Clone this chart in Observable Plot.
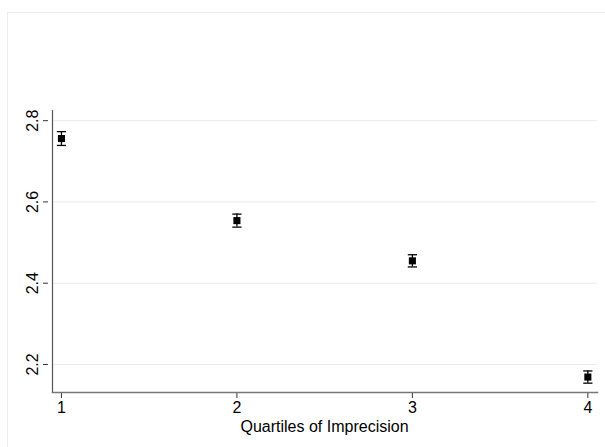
<!DOCTYPE html>
<html>
<head>
<meta charset="utf-8">
<script src="https://cdn.jsdelivr.net/npm/d3@7"></script>
<script src="https://cdn.jsdelivr.net/npm/@observablehq/plot@0.6"></script>
<style>
  html, body { margin: 0; padding: 0; background: #fff; }
  #wrap { position: relative; width: 605px; height: 447px; overflow: hidden; }
  #frame { position: absolute; left: 7px; top: 12px; width: 700px; height: 600px; border: 1px solid #e8eff1; box-sizing: border-box; }
  #chart { position: absolute; left: 0; top: 0; }
</style>
</head>
<body>
<div id="wrap"><div id="frame"></div><div id="chart"></div></div>
<script>
const quartiles = [1, 2, 3, 4];
const means = [2.756, 2.554, 2.455, 2.169];
const halfCI = [0.017, 0.016, 0.015, 0.015];
const yTicks = [2.2, 2.4, 2.6, 2.8];
const xTicks = [1, 2, 3, 4];
const xTitle = "Quartiles of Imprecision";

const data = quartiles.map((q, i) => ({q, m: means[i], lo: means[i] - halfCI[i], hi: means[i] + halfCI[i]}));

const cap = {
  draw(ctx, size) {
    const w = Math.sqrt(size) / 2;
    ctx.moveTo(-w, 0);
    ctx.lineTo(w, 0);
  }
};

const font = "Liberation Sans, Arial, Helvetica, sans-serif";

const plot = Plot.plot({
  width: 605,
  height: 447,
  marginLeft: 52,
  marginRight: 8,
  marginTop: 110,
  marginBottom: 55,
  style: {fontFamily: font, fontSize: "16px", color: "#000", background: "transparent"},
  x: {domain: [0.949, 4.055]},
  y: {domain: [2.131, 2.825]},
  marks: [
    Plot.gridY(yTicks, {stroke: "#e3edf0", strokeOpacity: 1, strokeWidth: 1}),
    Plot.axisY(yTicks, {tickSize: 5, tickPadding: 6, tickRotate: -90, label: null, stroke: "#333", fontSize: 16, textAnchor: "middle", dx: -4, tickFormat: d => d.toFixed(1)}),
    Plot.axisX(xTicks, {tickSize: 6, tickPadding: 3, label: null, stroke: "#333", fontSize: 16, tickFormat: d => String(d)}),
    Plot.frame({anchor: "left", stroke: "#555", strokeWidth: 1.2}),
    Plot.frame({anchor: "bottom", stroke: "#777", strokeWidth: 1.5}),
    Plot.ruleX(data, {x: "q", y1: "lo", y2: "hi", stroke: "#000", strokeWidth: 1.3}),
    Plot.dot(data, {x: "q", y: "lo", symbol: cap, r: 5.2, stroke: "#000", strokeWidth: 1.3}),
    Plot.dot(data, {x: "q", y: "hi", symbol: cap, r: 5.2, stroke: "#000", strokeWidth: 1.3}),
    Plot.dot(data, {x: "q", y: "m", symbol: "square", r: 4, fill: "#000", stroke: null})
  ]
});

const svg = d3.select(plot);
svg.append("text")
  .attr("x", (52 + 597) / 2)
  .attr("y", 432)
  .attr("text-anchor", "middle")
  .text(xTitle);

svg.selectAll("text")
  .style("font-size", "16px")
  .style("font-family", font)
  .style("fill", "#000");

document.getElementById("chart").appendChild(plot);
</script>
</body>
</html>
